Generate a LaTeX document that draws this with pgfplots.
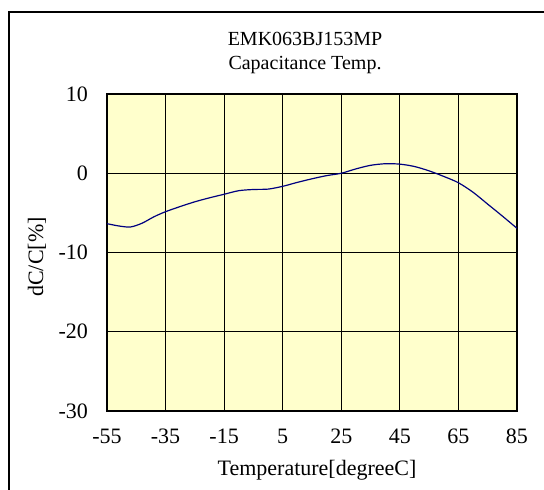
\documentclass[border=0pt]{standalone}
\usepackage{pgfplots}
\pgfplotsset{compat=1.18}
\usepackage{fontspec}
\setmainfont{Liberation Serif}
\definecolor{plotbg}{RGB}{255,255,204}
\definecolor{curve}{RGB}{0,0,128}
\begin{document}
\begin{tikzpicture}[x=0.5pt,y=-0.5pt]
\useasboundingbox (0,0) rectangle (544,490);
\draw[line width=0.8pt] (9,490) -- (9,12) -- (544,12);
\begin{axis}[
  at={(53.5pt,-205.5pt)}, anchor=south west,
  scale only axis, width=205pt, height=158.5pt,
  xmin=-55, xmax=85, ymin=-30, ymax=10,
  xtick={-55,-35,...,85}, ytick={-30,-20,...,10},
  axis background/.style={fill=plotbg},
  grid=major, major grid style={black, line width=0.6pt},
  axis line style={line width=1pt},
  tick style={draw=none},
  font=\fontsize{11}{12}\selectfont,
  /pgf/number format/assume math mode=true,
  xticklabel style={yshift=-5.5pt},
  yticklabel style={xshift=-6pt},
]
\addplot[curve, line width=0.6pt, smooth, tension=0.5] coordinates {
(-55,-6.36) (-51,-6.65) (-47,-6.78) (-43,-6.3) (-39,-5.5) (-35,-4.85) (-30,-4.2) (-25,-3.6) (-20,-3.1) (-15,-2.65) (-10,-2.2) (-5,-2.05) (0,-2.0) (5,-1.65) (10,-1.15) (15,-0.7) (20,-0.3) (25,0) (30,0.55) (35,1.0) (40,1.2) (45,1.15) (50,0.85) (55,0.3) (60,-0.4) (65,-1.2) (70,-2.4) (75,-3.9) (80,-5.4) (85,-6.95)
};
\end{axis}
\node[font=\fontsize{10}{11}\selectfont, align=center] at (305,53) {EMK063BJ153MP\\[1pt]Capacitance Temp.};
\node[font=\fontsize{11}{12}\selectfont] at (317,470) {Temperature[degreeC]};
\node[font=\fontsize{11}{12}\selectfont, rotate=90] at (37,257) {dC/C[\%]};
\end{tikzpicture}
\end{document}
